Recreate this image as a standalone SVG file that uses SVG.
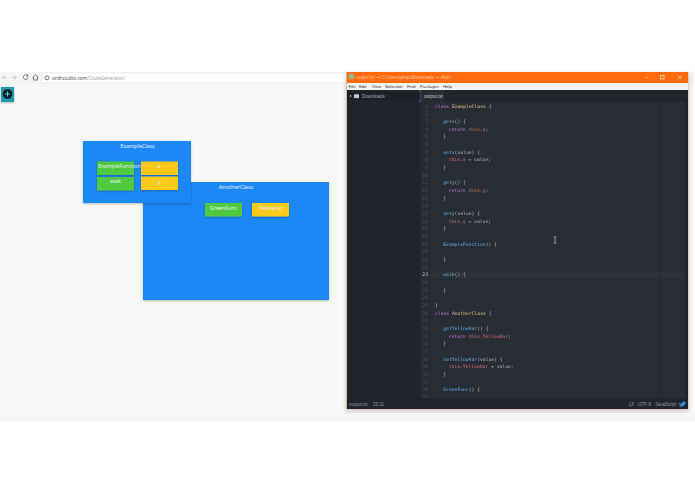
<svg xmlns="http://www.w3.org/2000/svg" width="695" height="494" viewBox="0 0 695 494">
<style>
.s{font-family:"Open Sans","Noto Sans",sans-serif}
.t{font-family:"Open Sans","Noto Sans",sans-serif;fill:#eef5ff;text-anchor:middle}
.c{font-family:"DejaVu Sans Mono","Liberation Mono",monospace;font-size:4.7px;fill:#abb2bf}
.n{font-family:"DejaVu Sans Mono","Liberation Mono",monospace;font-size:4.7px;fill:#495162;text-anchor:end}
.k{fill:#c678dd}.y{fill:#e5c07b}.f{fill:#61afef}.r{fill:#e06c75}
.m{font-family:"Liberation Sans",sans-serif;font-size:4.3px;fill:#333}
.u{font-family:"Liberation Sans",sans-serif;font-size:4.6px;fill:#8a919e}
.i{fill:none;stroke:#555;stroke-width:.8}
</style>
<defs>
<filter id="sh" x="-10%" y="-10%" width="120%" height="125%"><feDropShadow dx="0" dy="1" stdDeviation="1" flood-color="#000" flood-opacity=".25"/></filter>
<filter id="win" x="-3%" y="-3%" width="106%" height="106%"><feDropShadow dx="0" dy="1.500" stdDeviation="2" flood-color="#000" flood-opacity=".2"/></filter>
<filter id="soft" x="-2%" y="-2%" width="104%" height="104%"><feGaussianBlur stdDeviation=".25"/></filter>
</defs>
<rect width="695" height="494" fill="#fff"/>
<rect x="0" y="84" width="695" height="337" fill="#f7f7f7"/>
<g id="browser-bar">
<rect x="0" y="72" width="695" height="12" fill="#f4f4f4"/>
<rect x="42" y="73" width="304" height="10" fill="#fff" stroke="#ddd" stroke-width=".5"/>
<path d="M7 77.500H2.500M4.500 75.500l-2 2 2 2" fill="none" stroke="#c4c4c4" stroke-width=".8"/>
<path d="M12 77.500H16.500M14.500 75.500l2 2-2 2" fill="none" stroke="#c4c4c4" stroke-width=".8"/>
<path class="i" d="M27.500 75.400a2.400 2.400 0 1 0 .6 2.100M27.800 74.600v1.600h-1.600"/>
<path class="i" d="M32.500 77.800l3-2.900 3 2.900M33.600 77v3h3.800v-3"/>
<circle class="i" cx="47" cy="77.800" r="2"/>
<text x="52" y="79.800" font-family="'Open Sans',sans-serif" font-size="4.85" fill="#444">ordrstudio.com<tspan fill="#999">/CodeGenerator/</tspan></text>
</g>
<g id="add-button">
<rect x="1" y="87" width="13" height="15" fill="#1b9ab0" filter="url(#sh)"/>
<circle cx="7.500" cy="94" r="4.800" fill="#061c28"/>
<path d="M7.500 91.500v5M5 94h5" stroke="#4fd0e0" stroke-width="1.100"/>
</g>
<g id="connectors"/>
<g id="AnotherClass">
<rect x="143" y="182" width="186" height="118" fill="#1e88f5" filter="url(#sh)"/>
<text class="t" x="236" y="189" font-size="5.600">AnotherClass</text>
</g>
<g id="GreenFunc">
<rect x="205" y="203" width="37" height="13.500" fill="#4fc93c" filter="url(#sh)"/>
<text class="t" x="223.500" y="209.500" font-size="5.300">GreenFunc</text>
</g>
<g id="YellowVar">
<rect x="252" y="203" width="37" height="13.500" fill="#fbc91e" filter="url(#sh)"/>
<text class="t" x="270.500" y="209.500" font-size="5.300">YellowVar</text>
</g>
<g id="ExampleClass">
<rect x="83" y="141" width="108" height="62" fill="#1e88f5" filter="url(#sh)"/>
<text class="t" x="137.500" y="147.500" font-size="5.400">ExampleClass</text>
</g>
<g id="ExampleFunction">
<rect x="97" y="161.500" width="37" height="13.500" fill="#4fc93c" filter="url(#sh)"/>
<text class="t" x="119.500" y="167.500" font-size="5.300">ExampleFunction</text>
</g>
<g id="walk">
<rect x="97" y="177" width="37" height="13.500" fill="#4fc93c" filter="url(#sh)"/>
<text class="t" x="115.500" y="182.800" font-size="5.300">walk</text>
</g>
<g id="x">
<rect x="141" y="161.500" width="37" height="13.500" fill="#fbc91e" filter="url(#sh)"/>
<text class="t" x="159.500" y="168" font-size="5.300">x</text>
</g>
<g id="y">
<rect x="141" y="176.500" width="37" height="13.500" fill="#fbc91e" filter="url(#sh)"/>
<text class="t" x="159.500" y="183.500" font-size="5.300">y</text>
</g>
<g id="atom-window">
<rect x="346" y="72" width="342.500" height="337.500" fill="#e0b69a" filter="url(#win)"/>
<rect x="347" y="72" width="341" height="11" fill="#ff6a0e"/>
<rect x="347" y="83" width="341" height="7" fill="#f3f3f3"/>
<rect x="347" y="90" width="73" height="308" fill="#21252b"/>
<rect x="420" y="90" width="268" height="308" fill="#282c34"/>
<rect x="420" y="90" width="268" height="12" fill="#21252b"/>
<rect x="420" y="90" width="24" height="12" fill="#282c34"/>
<rect x="419.500" y="90" width=".8" height="12" fill="#4f7fd0"/>
<rect x="420" y="102" width="11" height="296" fill="#262a31"/>
<rect x="347" y="398" width="341" height="11" fill="#21252b"/>
<rect x="431" y="270.700" width="257" height="7.700" fill="#2c313a"/>
<rect x="659" y="102" width=".6" height="296" fill="#21252b"/>
<rect x="685" y="102" width="3" height="296" fill="#21252b"/>
<rect x="347" y="92.500" width="73" height="7.500" fill="#1c2026"/>
<circle cx="351.500" cy="76.500" r="2.800" fill="#8fc08a"/>
<text x="356.500" y="78.600" font-family="'Liberation Sans',sans-serif" font-style="italic" font-size="4.450" fill="#ffc9a0">output.txt — C:\Users\jacqu\Downloads — Atom</text>
<path d="M645 77.500h3" stroke="#ffc9a0" stroke-width=".7"/>
<rect x="660.500" y="75.500" width="3.500" height="3.500" fill="none" stroke="#ffd9bd" stroke-width=".8"/>
<path d="M678 75.500l3.500 3.500M681.500 75.500l-3.500 3.500" stroke="#ffd9bd" stroke-width=".8"/>
<text class="m"><tspan x="348.500" y="88.300">File</tspan><tspan x="359" y="88.300">Edit</tspan><tspan x="372" y="88.300">View</tspan><tspan x="385" y="88.300">Selection</tspan><tspan x="407" y="88.300">Find</tspan><tspan x="420" y="88.300">Packages</tspan><tspan x="443" y="88.300">Help</tspan></text>
<path d="M350 94.500l1.800 1.500-1.800 1.500z" fill="#9da5b4"/>
<rect x="354" y="94.300" width="5" height="3.800" fill="#c5cad3"/>
<text x="362" y="98" font-family="'Liberation Sans',sans-serif" font-size="4.600" fill="#9da5b4">Downloads</text>
<text x="424" y="98" font-family="'Liberation Sans',sans-serif" font-size="4.600" fill="#c5cad3">output.txt</text>
<text class="u" x="349" y="406">output.txt</text>
<text class="u" x="373" y="406">23:11</text>
<text class="u" x="629" y="406">LF</text>
<text class="u" x="638" y="406">UTF-8</text>
<text class="u" x="655" y="406">JavaScript</text>
<path d="M678 402.500c2 1 3 1.200 4 1 0-2 2-2.800 3-1.500l1-.5-.5 1.300c0 3-3.500 5-7 3.500 1 0 2-.3 2.500-.9-1.200-.2-2-1-2-1.400h1c-1-.4-1.800-1-2-1.500z" fill="#2f8fe0"/>
<g filter="url(#soft)">
<text class="n"><tspan x="428" y="107.500">1</tspan><tspan x="428" y="115.200">2</tspan><tspan x="428" y="122.800">3</tspan><tspan x="428" y="130.500">4</tspan><tspan x="428" y="138.200">5</tspan><tspan x="428" y="145.800">6</tspan><tspan x="428" y="153.500">7</tspan><tspan x="428" y="161.200">8</tspan><tspan x="428" y="168.800">9</tspan><tspan x="428" y="176.500">10</tspan><tspan x="428" y="184.200">11</tspan><tspan x="428" y="191.800">12</tspan><tspan x="428" y="199.500">13</tspan><tspan x="428" y="207.200">14</tspan><tspan x="428" y="214.800">15</tspan><tspan x="428" y="222.500">16</tspan><tspan x="428" y="230.200">17</tspan><tspan x="428" y="237.800">18</tspan><tspan x="428" y="245.500">19</tspan><tspan x="428" y="253.200">20</tspan><tspan x="428" y="260.800">21</tspan><tspan x="428" y="268.500">22</tspan><tspan x="428" y="276.200" fill="#c5cad3">23</tspan><tspan x="428" y="283.800">24</tspan><tspan x="428" y="291.500">25</tspan><tspan x="428" y="299.200">26</tspan><tspan x="428" y="306.800">27</tspan><tspan x="428" y="314.500">28</tspan><tspan x="428" y="322.200">29</tspan><tspan x="428" y="329.800">30</tspan><tspan x="428" y="337.500">31</tspan><tspan x="428" y="345.200">32</tspan><tspan x="428" y="352.800">33</tspan><tspan x="428" y="360.500">34</tspan><tspan x="428" y="368.200">35</tspan><tspan x="428" y="375.800">36</tspan><tspan x="428" y="383.500">37</tspan><tspan x="428" y="391.200">38</tspan><tspan x="428" y="397.500">39</tspan></text>
<text class="c">
<tspan x="435" y="107.500"><tspan class="k">class</tspan> <tspan class="y">ExampleClass</tspan> {</tspan>
<tspan x="443.300" y="122.800"><tspan class="f">getx</tspan>() {</tspan>
<tspan x="448.700" y="130.500"><tspan class="k">return</tspan> <tspan class="r">this.x</tspan>;</tspan>
<tspan x="443.300" y="138.200">}</tspan>
<tspan x="443.300" y="153.500"><tspan class="f">setx</tspan>(value) {</tspan>
<tspan x="448.700" y="161.200"><tspan class="r">this.x</tspan> = value;</tspan>
<tspan x="443.300" y="168.800">}</tspan>
<tspan x="443.300" y="184.200"><tspan class="f">gety</tspan>() {</tspan>
<tspan x="448.700" y="191.800"><tspan class="k">return</tspan> <tspan class="r">this.y</tspan>;</tspan>
<tspan x="443.300" y="199.500">}</tspan>
<tspan x="443.300" y="214.800"><tspan class="f">sety</tspan>(value) {</tspan>
<tspan x="448.700" y="222.500"><tspan class="r">this.y</tspan> = value;</tspan>
<tspan x="443.300" y="230.200">}</tspan>
<tspan x="443.300" y="245.500"><tspan class="f">ExampleFunction</tspan>() {</tspan>
<tspan x="443.300" y="260.800">}</tspan>
<tspan x="443.300" y="276.200"><tspan class="f">walk</tspan>() {</tspan>
<tspan x="443.300" y="291.500">}</tspan>
<tspan x="435" y="306.800">}</tspan>
<tspan x="435" y="314.500"><tspan class="k">class</tspan> <tspan class="y">AnotherClass</tspan> {</tspan>
<tspan x="443.300" y="329.800"><tspan class="f">getYellowVar</tspan>() {</tspan>
<tspan x="448.700" y="337.500"><tspan class="k">return</tspan> <tspan class="r">this.YellowVar</tspan>;</tspan>
<tspan x="443.300" y="345.200">}</tspan>
<tspan x="443.300" y="360.500"><tspan class="f">setYellowVar</tspan>(value) {</tspan>
<tspan x="448.700" y="368.200"><tspan class="r">this.YellowVar</tspan> = value;</tspan>
<tspan x="443.300" y="375.800">}</tspan>
<tspan x="443.300" y="391.200"><tspan class="f">GreenFunc</tspan>() {</tspan>
</text>
</g>
<path d="M553.500 237h3M555 237v6M553.500 243h3" stroke="#c8ccd4" stroke-width=".6" fill="none"/>
</g>
</svg>
